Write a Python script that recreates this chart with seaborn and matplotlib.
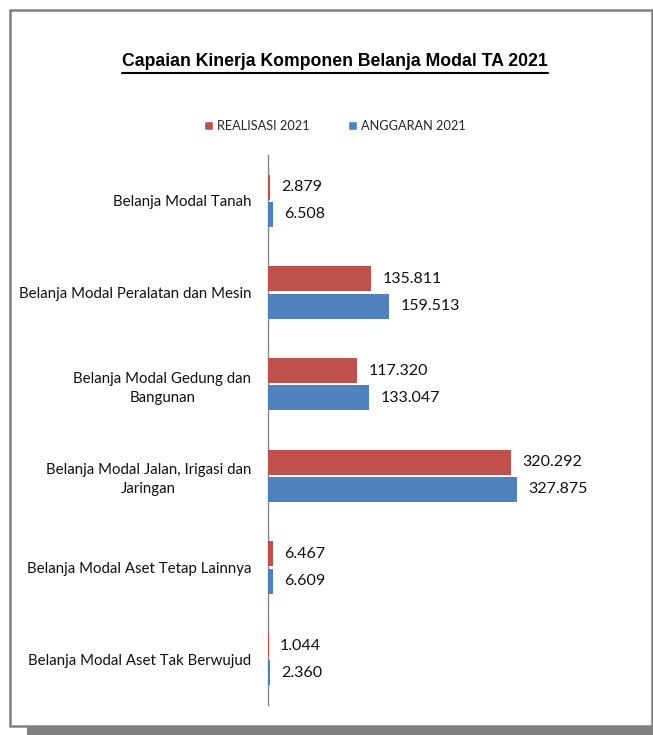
import pandas as pd
import seaborn as sns
from matplotlib import pyplot as plt
from matplotlib.patches import Rectangle
from matplotlib.lines import Line2D

categories = [
    "Belanja Modal Tanah",
    "Belanja Modal Peralatan dan Mesin",
    "Belanja Modal Gedung dan\nBangunan",
    "Belanja Modal Jalan, Irigasi dan\nJaringan",
    "Belanja Modal Aset Tetap Lainnya",
    "Belanja Modal Aset Tak Berwujud",
]
realisasi = [2.879, 135.811, 117.320, 320.292, 6.467, 1.044]
anggaran = [6.508, 159.513, 133.047, 327.875, 6.609, 2.360]
series = ["REALISASI 2021", "ANGGARAN 2021"]
colors = ["#C0504D", "#4F81BD"]


def main():
    df = pd.DataFrame({
        "kategori": categories * 2,
        "seri": [series[0]] * len(categories) + [series[1]] * len(categories),
        "nilai": realisasi + anggaran,
    })

    sns.set_theme(style="white")
    plt.rcParams["font.family"] = ["Lato", "DejaVu Sans"]

    fig = plt.figure(figsize=(6.53, 7.35), dpi=100)
    W, H = 653, 735

    # frame with shadow (behind the axes)
    fig.patches.append(Rectangle((27 / W, 0), 1 - 27 / W, 12 / H, transform=fig.transFigure,
                                 facecolor="#808080", edgecolor="none", zorder=-3))
    fig.patches.append(Rectangle((10 / W, 1 - 726 / H), 642 / W, 716 / H, transform=fig.transFigure,
                                 facecolor="white", edgecolor="#808080", linewidth=1.8, zorder=-2))

    ax = fig.add_axes([268 / W, 1 - 705 / H, 304 / W, 550 / H])
    ax.set_facecolor("none")
    sns.barplot(data=df, y="kategori", x="nilai", hue="seri", hue_order=series,
                palette=colors, saturation=1, width=0.59, gap=0.075, linewidth=0,
                orient="h", ax=ax, legend=True)

    for cont in ax.containers:
        ax.bar_label(cont, fmt="%.3f", padding=8, fontsize=11.5, color="#111111")

    ax.set_xlim(0, 400)
    ax.set_xlabel("")
    ax.set_ylabel("")
    ax.set_xticks([])
    for s in ["top", "right", "bottom"]:
        ax.spines[s].set_visible(False)
    ax.spines["left"].set_color("#868686")
    ax.spines["left"].set_linewidth(1.0)
    ax.spines["left"].set_zorder(0.5)  # keep tiny bars visible over the axis line
    ax.tick_params(axis="y", length=0, pad=12, labelsize=10.8, labelcolor="#111111")
    for lbl in ax.get_yticklabels():
        lbl.set_multialignment("center")
        lbl.set_linespacing(1.45)

    ax.get_legend().remove()
    handles = [Rectangle((0, 0), 1, 1, facecolor=c) for c in colors]
    fig.legend(handles, series, loc="center", bbox_to_anchor=(335 / W, 1 - 126 / H), ncol=2,
               frameon=False, fontsize=9.2, handlelength=0.7, handleheight=0.7,
               handletextpad=0.3, columnspacing=3.0)

    title = fig.text(335 / W, 1 - 62 / H, "Capaian Kinerja Komponen Belanja Modal TA 2021",
                     ha="center", va="center", fontsize=12.7, fontweight="bold",
                     family=["Liberation Sans", "DejaVu Sans"], color="black")
    fig.canvas.draw()
    bb = title.get_window_extent().transformed(fig.transFigure.inverted())
    fig.add_artist(Line2D([bb.x0, bb.x1], [bb.y0 - 2 / H, bb.y0 - 2 / H],
                          transform=fig.transFigure, color="black", linewidth=1.5))

    fig.savefig("out.png", dpi=100)


if __name__ == "__main__":
    main()
